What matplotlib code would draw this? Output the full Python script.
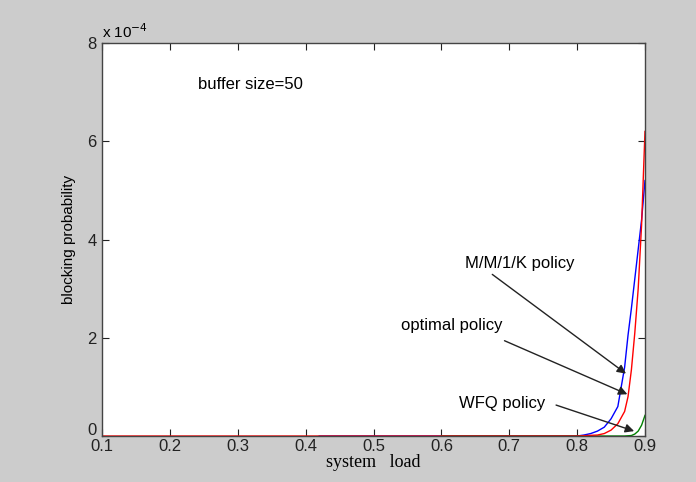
import matplotlib
matplotlib.use("Agg")
import matplotlib.pyplot as plt
from matplotlib.transforms import ScaledTranslation

# values (blocking probability in units of 1e-4)
mm1k_load = [0.42, 0.60, 0.80, 0.81, 0.82, 0.83, 0.84, 0.85, 0.86, 0.87, 0.875,
             0.88, 0.885, 0.89, 0.895, 0.90]
mm1k_prob = [0.0, 0.0, 0.0, 0.02, 0.05, 0.10, 0.18, 0.35, 0.60, 1.40, 2.05,
             2.60, 3.20, 3.80, 4.40, 5.20]

opt_load = [0.10, 0.40, 0.60, 0.80, 0.83, 0.84, 0.85, 0.86, 0.87, 0.875,
            0.88, 0.885, 0.89, 0.895, 0.90]
opt_prob = [0.0, 0.0, 0.0, 0.0, 0.02, 0.05, 0.12, 0.25, 0.50, 0.80,
            1.35, 2.10, 3.00, 4.30, 6.20]

wfq_load = [0.60, 0.80, 0.87, 0.88, 0.885, 0.89, 0.895, 0.90]
wfq_prob = [0.0, 0.0, 0.0, 0.01, 0.04, 0.10, 0.22, 0.42]

x_ticks = [0.1, 0.2, 0.3, 0.4, 0.5, 0.6, 0.7, 0.8, 0.9]
y_ticks = [0, 2, 4, 6, 8]

bg = "#cccccc"
fig = plt.figure(figsize=(6.96, 4.82), dpi=100, facecolor=bg)
ax = fig.add_axes([0.1466, 0.0954, 0.7801, 0.8154])

ax.plot(mm1k_load, mm1k_prob, color=(0, 0, 1), lw=1.0)
ax.plot(wfq_load, wfq_prob, color=(0, 0.5, 0), lw=1.0)
ax.plot(opt_load, opt_prob, color=(1, 0, 0), lw=1.0)

ax.set_xlim(0.1, 0.9)
ax.set_ylim(0, 8)
ax.set_xticks(x_ticks)
ax.set_xticklabels([str(v) for v in x_ticks])
ax.set_yticks(y_ticks)
ax.tick_params(direction="in", length=5, width=0.8, top=True, right=True,
               labelsize=12, colors="#222222")
ax.tick_params(axis="x", pad=2)
ax.tick_params(axis="y", pad=4)
for lab in ax.get_xticklabels() + ax.get_yticklabels():
    lab.set_family("Liberation Sans")
# the "0" sits a little above the x tick labels, as in the original
ylab0 = ax.get_yticklabels()[0]
ylab0.set_transform(ylab0.get_transform() + ScaledTranslation(0, 5 / 72, fig.dpi_scale_trans))
for s in ax.spines.values():
    s.set_color("#444444")
    s.set_linewidth(1.0)

ax.set_xlabel("system   load", family="Liberation Serif", fontsize=13, labelpad=0)
ax.set_ylabel("blocking probability", family="Liberation Sans", fontsize=11, labelpad=8)

ax.text(0.0, 1.006, "x 10$^{-4}$", transform=ax.transAxes, fontsize=11,
        family="Liberation Sans", ha="left", va="bottom")

ax.text(0.241, 7.15, "buffer size=50", fontsize=12, family="Liberation Sans",
        ha="left", va="center")

arrow = dict(arrowstyle="-|>", color="#222222", lw=1.0, mutation_scale=13,
             shrinkA=0, shrinkB=0)
ax.annotate("", xy=(0.872, 1.27), xytext=(0.675, 3.29), arrowprops=arrow)
ax.annotate("", xy=(0.874, 0.85), xytext=(0.693, 1.94), arrowprops=arrow)
ax.annotate("", xy=(0.884, 0.10), xytext=(0.769, 0.63), arrowprops=arrow)
ax.text(0.715, 3.52, "M/M/1/K policy", fontsize=12, family="Liberation Sans",
        ha="center", va="center")
ax.text(0.615, 2.24, "optimal policy", fontsize=12, family="Liberation Sans",
        ha="center", va="center")
ax.text(0.69, 0.66, "WFQ policy", fontsize=12, family="Liberation Sans",
        ha="center", va="center")

fig.savefig("out.png", dpi=100, facecolor=bg)
